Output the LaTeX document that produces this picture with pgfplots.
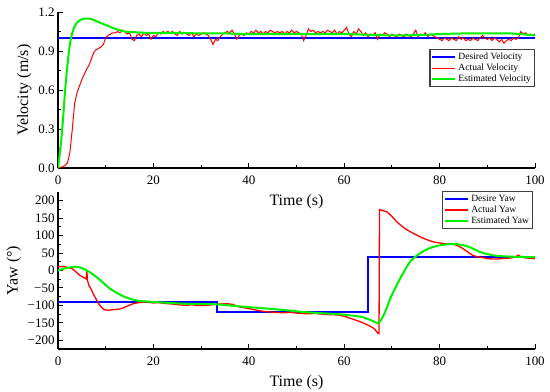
\documentclass[border=0pt]{standalone}
\usepackage{fontspec}
\setmainfont{Liberation Serif}
\usepackage{pgfplots}
\pgfplotsset{compat=1.18}
\definecolor{cblue}{RGB}{0,0,255}
\definecolor{cred}{RGB}{255,0,0}
\definecolor{cgreen}{RGB}{0,240,0}
\pgfplotsset{
  common/.style={
    scale only axis,
    width=477bp,
    xmin=0, xmax=100,
    axis x line=bottom, axis y line=left,
    axis line style={-, line width=1.1bp, black},
    tick align=inside,
    major tick length=5bp, minor tick length=3bp,
    every tick/.style={black, line width=1bp},
    xtick={0,20,40,60,80,100},
    minor x tick num=1,
    minor y tick num=1,
    /pgf/number format/assume math mode=true,
    tick label style={font=\fontsize{13}{15}\selectfont},
    xticklabel style={yshift=-4bp},
    label style={font=\fontsize{16}{18}\selectfont},
    xlabel style={yshift=-3bp},
    legend cell align=left,
    legend style={font=\fontsize{9.6}{11.5}\selectfont, draw=black!75, line width=1.1bp, inner sep=1.5bp, row sep=-1bp},
    legend image code/.code={\draw[##1] (0bp,0bp) -- (23bp,0bp);},
  }
}
\begin{document}
\begin{tikzpicture}
\path[use as bounding box] (0,0) rectangle (550bp,-392bp);
\begin{axis}[common,
  at={(58bp,-168bp)}, anchor=south west,
  height=156bp,
  ymin=0, ymax=1.2,
  ytick={0,0.3,0.6,0.9,1.2},
  yticklabels={0.0,0.3,0.6,0.9,1.2},
  xlabel={Time (s)},
  ylabel={Velocity (m/s)},
  legend style={at={(1.0,0.763)}, anchor=north east},
]
\addplot[color=cblue, line width=2bp] coordinates {(0,1) (100,1)};
\addlegendentry{Desired Velocity}
\addplot[color=cred, line width=1bp] coordinates {
(0,0) (0.5,0.005) (1,0.01) (1.5,0.02) (2,0.04) (2.5,0.12) (3,0.3) (3.5,0.5) (4,0.58) (4.5,0.63) (5,0.68) (5.5,0.72) (6,0.76) (6.5,0.79) (7,0.84) (7.5,0.89) (8,0.91) (8.5,0.92) (9,0.93) (9.5,0.95) (10,1.0) (10.5,1.02) (11,1.03) (11.5,1.04) (12,1.04) (12.5,1.05) (13,1.04) (13.5,1.06) (14,1.05) (14.5,1.03) (15,1.04) (15.5,0.99) (16,0.98) (16.5,1.02) (17,1.03) (17.5,1.01) (18,1.04) (18.5,1.02) (19,1.03) (19.5,0.99) (20,1.02) (20.5,1.01) (21,1.04) (21.5,1.03) (22,1.05) (22.5,1.04) (23,1.05) (23.5,1.04) (24,1.05) (24.5,1.03) (25,1.02) (25.5,1.05) (26,1.03) (26.5,1.04) (27,1.03) (27.5,1.02) (28,1.04) (28.5,1.01) (29,1.03) (29.5,1.02) (30,1.03) (30.5,1.04) (31,1.03) (31.5,1.02) (32,0.99) (32.5,0.95) (33,0.99) (33.5,0.98) (34,1.01) (34.5,1.03) (35,1.04) (35.5,1.05) (36,1.04) (36.5,1.06) (37,1.03) (37.5,0.99) (38,1.02) (38.5,1.03) (39,1.02) (39.5,1.04) (40,1.03) (40.5,1.05) (41,1.04) (41.5,1.06) (42,1.04) (42.5,1.05) (43,1.03) (43.5,1.05) (44,1.04) (44.5,1.06) (45,1.05) (45.5,1.04) (46,1.05) (46.5,1.04) (47,1.05) (47.5,1.03) (48,1.05) (48.5,1.04) (49,1.06) (49.5,1.04) (50,1.05) (50.5,1.04) (51,1.03) (51.5,0.98) (52,1.02) (52.5,1.07) (53,1.05) (53.5,1.06) (54,1.04) (54.5,1.05) (55,1.04) (55.5,1.05) (56,1.04) (56.5,1.06) (57,1.05) (57.5,1.04) (58,1.06) (58.5,1.03) (59,1.05) (59.5,1.04) (60,1.06) (60.5,1.08) (61,1.03) (61.5,1.01) (62,1.05) (62.5,1.03) (63,1.07) (63.5,1.05) (64,1.02) (64.5,1.04) (65,1.01) (65.5,1.03) (66,1.02) (66.5,1.04) (67,0.99) (67.5,1.03) (68,1.02) (68.5,1.04) (69,1.03) (69.5,1.01) (70,1.03) (70.5,1.02) (71,1.01) (71.5,1.03) (72,1.02) (72.5,1.01) (73,1.03) (73.5,1.02) (74,1.01) (74.5,1.03) (75,1.06) (75.5,1.01) (76,1.03) (76.5,1.02) (77,1.04) (77.5,1.01) (78,1.03) (78.5,1.02) (79,1.01) (79.5,1.00) (80,0.99) (80.5,0.98) (81,1.00) (81.5,0.99) (82,0.98) (82.5,1.00) (83,0.99) (83.5,0.98) (84,1.01) (84.5,0.99) (85,1.00) (85.5,0.98) (86,0.99) (86.5,0.98) (87,1.00) (87.5,0.99) (88,0.98) (88.5,1.00) (89,1.02) (89.5,1.00) (90,0.99) (90.5,1.00) (91,0.98) (91.5,1.00) (92,0.99) (92.5,0.97) (93,0.99) (93.5,0.96) (94,0.98) (94.5,0.99) (95,0.98) (95.5,1.00) (96,0.99) (96.5,1.00) (97,1.05) (97.5,1.03) (98,1.04) (98.5,1.02) (99,1.03) (99.5,1.02) (100,1.03)
};
\addlegendentry{Actual Velocity}
\addplot[color=cgreen, line width=2bp, smooth] coordinates {
(0,0) (0.5,0.15) (1,0.35) (1.5,0.6) (2,0.8) (2.5,0.95) (3,1.04) (3.5,1.09) (4,1.12) (5,1.145) (6,1.15) (7,1.145) (8,1.13) (9,1.115) (10,1.10) (11,1.085) (12,1.07) (13,1.06) (14,1.05) (16,1.045) (18,1.04) (20,1.04) (25,1.04) (30,1.035) (35,1.035) (40,1.03) (45,1.03) (50,1.03) (55,1.03) (60,1.03) (65,1.025) (70,1.02) (75,1.022) (80,1.03) (85,1.035) (90,1.035) (95,1.035) (100,1.02)
};
\addlegendentry{Estimated Velocity}
\end{axis}
\begin{axis}[common,
  at={(58bp,-349bp)}, anchor=south west,
  height=157bp,
  ymin=-225, ymax=225,
  ytick={-200,-150,-100,-50,0,50,100,150,200},
  yticklabels={−200,−150,−100,−50,0,50,100,150,200},
  xlabel={Time (s)},
  ylabel={Yaw (°)},
  legend style={at={(0.996,1.005)}, anchor=north east},
]
\addplot[color=cblue, line width=2bp] coordinates {(0,-90) (33.4,-90) (33.4,-120) (64.9,-120) (64.9,38) (100,38)};
\addlegendentry{Desire Yaw}
\addplot[color=cred, line width=1.3bp] coordinates {
(0,11) (1,11) (1.8,10) (3,5) (4.6,-14) (5.9,-24) (6.05,-2) (6.2,-30) (6.5,-43) (7,-55) (7.4,-67) (8,-82) (8.5,-95) (9,-104) (9.6,-112) (10.5,-114) (11.7,-112) (12.7,-111) (13.7,-107) (14.7,-101) (15.8,-95) (17,-92) (18.6,-90) (20,-93) (21,-92) (22.8,-95) (24,-96) (25,-98) (27,-100) (28,-98) (29,-100) (31.2,-100) (33,-97) (35.4,-95) (36.5,-97) (38.2,-105) (40,-109) (41.7,-114) (43,-117) (45.5,-120) (47,-121) (49,-120) (50.5,-123) (52.5,-124) (54,-123) (56,-126) (58,-127) (59,-128) (60,-131) (61.5,-138) (63,-145) (64.3,-152) (65.2,-158) (66,-164) (66.5,-170) (67,-179) (67.3,-181) (67.4,175) (68,172) (69,168) (70,155) (71,140) (72,128) (73,118) (74,110) (75,103) (76,96) (77,90) (78,85) (79,81) (80,79) (81,77) (82,76) (83,75) (84,70) (85,62) (86,52) (87,43) (88,39) (89,37) (90,34) (91,33) (92,33) (93,34) (94,35) (95,36) (96,40) (96.5,44) (97,40) (98,36) (99,35) (100,34)
};
\addlegendentry{Actual Yaw}
\addplot[color=cgreen, line width=2bp, smooth] coordinates {
(0,0) (1.5,6) (3.6,11) (5,7) (6.7,-5) (8.8,-27) (10.9,-52) (13.7,-74) (16.5,-86) (20,-90) (26.3,-95) (33.3,-97) (38.2,-103) (45.5,-111) (52.5,-120) (59.5,-126) (63.6,-133) (65.7,-143) (67.2,-150) (68.4,-124) (69.8,-76) (71.9,-19) (74,28) (76.8,57) (79.6,71) (83.1,76) (85.9,69) (88.7,52) (91.5,43) (94.3,40) (100,38)
};
\addlegendentry{Estimated Yaw}
\end{axis}
\end{tikzpicture}
\end{document}
